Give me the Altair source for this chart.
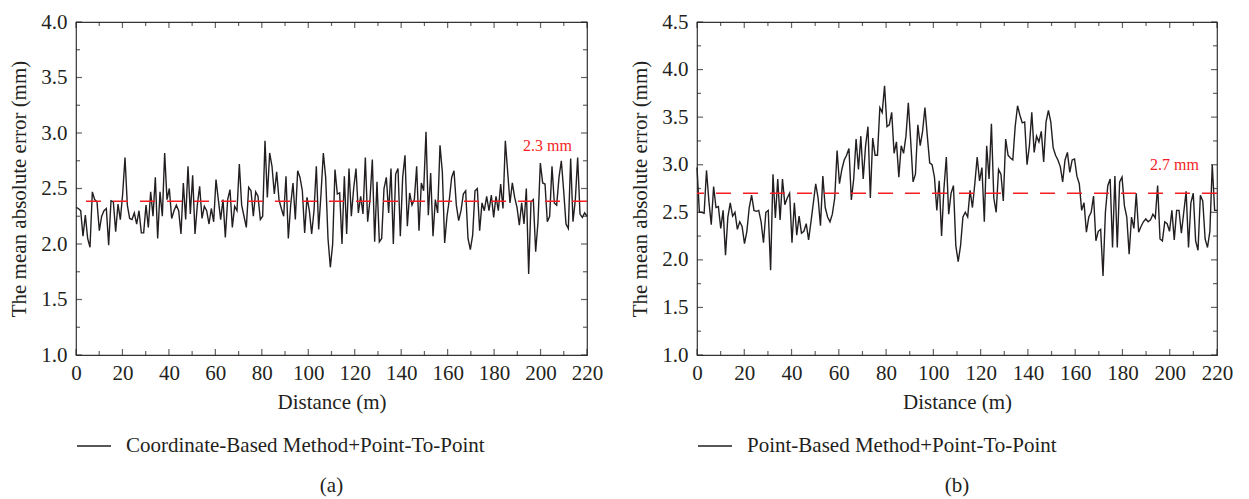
import altair as alt
import numpy as np
import pandas as pd

# ---------------- data ----------------
series_a_name = "Coordinate-Based Method+Point-To-Point"
series_b_name = "Point-Based Method+Point-To-Point"

error_a = [2.33, 2.32, 2.30, 2.07, 2.26, 2.05, 1.97, 2.47, 2.40, 2.38, 2.12, 2.25, 2.30, 2.32, 1.99, 2.39,
           2.38, 2.11, 2.36, 2.22, 2.45, 2.78, 2.35, 2.23, 2.22, 2.28, 2.18, 2.30, 2.10, 2.10, 2.35, 2.15,
           2.47, 2.25, 2.60, 2.05, 2.47, 2.25, 2.82, 2.40, 2.50, 2.23, 2.30, 2.35, 2.30, 2.09, 2.55, 2.22,
           2.70, 2.27, 2.62, 2.09, 2.35, 2.52, 2.23, 2.34, 2.30, 2.18, 2.32, 2.20, 2.58, 2.40, 2.22, 2.40,
           2.06, 2.40, 2.49, 2.15, 2.34, 2.30, 2.72, 2.35, 2.25, 2.15, 2.51, 2.48, 2.25, 2.47, 2.43, 2.22,
           2.25, 2.93, 2.42, 2.82, 2.70, 2.45, 2.65, 2.40, 2.32, 2.25, 2.61, 2.05, 2.35, 2.55, 2.22, 2.66,
           2.60, 2.48, 2.10, 2.42, 2.30, 2.09, 2.30, 2.70, 2.13, 2.45, 2.82, 2.60, 2.05, 1.79, 2.00, 2.67,
           2.45, 2.46, 2.00, 2.61, 2.09, 2.68, 2.25, 2.50, 2.68, 2.28, 2.43, 2.27, 2.78, 2.20, 2.40, 2.76,
           2.02, 2.56, 2.02, 2.05, 2.50, 2.60, 2.28, 2.68, 2.00, 2.63, 2.68, 2.07, 2.60, 2.80, 2.16, 2.46,
           2.35, 2.40, 2.70, 2.12, 2.55, 2.48, 3.01, 2.26, 2.64, 2.07, 2.40, 2.28, 2.89, 2.65, 2.01, 2.25,
           2.40, 2.60, 2.66, 2.35, 2.21, 2.30, 2.45, 2.48, 2.05, 1.95, 2.08, 2.48, 2.50, 2.12, 2.37, 2.30,
           2.43, 2.30, 2.44, 2.24, 2.43, 2.30, 2.54, 2.32, 2.93, 2.65, 2.37, 2.55, 2.42, 2.33, 2.17, 2.37,
           2.18, 2.50, 1.73, 2.38, 2.40, 1.93, 2.20, 2.73, 2.55, 2.54, 2.20, 2.25, 2.70, 2.37, 2.35, 2.60,
           2.75, 2.48, 2.18, 2.14, 2.77, 2.20, 2.40, 2.78, 2.27, 2.24, 2.28, 2.25]

error_b = [2.97, 2.50, 2.50, 2.49, 2.94, 2.62, 2.37, 2.77, 2.55, 2.56, 2.33, 2.52, 2.05, 2.45, 2.60, 2.46,
           2.50, 2.32, 2.40, 2.35, 2.17, 2.30, 2.55, 2.68, 2.52, 2.51, 2.52, 2.40, 2.18, 2.50, 2.52, 1.89,
           2.90, 2.44, 2.85, 2.42, 2.85, 2.58, 2.65, 2.70, 2.18, 2.60, 2.26, 2.46, 2.28, 2.30, 2.38, 2.21,
           2.40, 2.60, 2.80, 2.65, 2.36, 2.88, 2.55, 2.45, 2.40, 2.48, 2.65, 3.15, 2.80, 2.95, 3.05, 3.10,
           3.17, 2.63, 2.85, 3.27, 2.95, 3.30, 2.85, 3.20, 3.40, 2.65, 3.28, 3.10, 3.10, 3.60, 3.55, 3.83,
           3.40, 3.42, 3.55, 3.12, 3.24, 2.87, 3.20, 3.12, 3.30, 3.65, 3.25, 2.82, 2.90, 3.42, 3.20, 3.35,
           3.60, 3.30, 3.02, 3.00, 2.87, 2.52, 2.83, 2.25, 2.75, 3.08, 2.48, 2.70, 2.78, 2.15, 1.98, 2.15,
           2.45, 2.50, 2.45, 2.73, 2.55, 2.80, 3.08, 2.83, 2.97, 2.40, 3.20, 2.85, 3.43, 2.65, 2.50, 2.95,
           2.90, 2.62, 3.27, 3.10, 3.07, 3.05, 3.40, 3.62, 3.52, 3.44, 3.45, 3.00, 3.20, 3.55, 3.13, 3.30,
           3.24, 3.35, 3.03, 3.45, 3.57, 3.45, 3.18, 3.10, 3.05, 2.98, 2.82, 3.05, 3.13, 2.92, 3.05, 3.06,
           2.88, 2.80, 2.52, 2.60, 2.29, 2.45, 2.50, 2.67, 2.20, 2.30, 2.32, 1.83, 2.50, 2.78, 2.85, 2.13,
           2.88, 2.13, 2.82, 2.87, 2.57, 2.45, 2.06, 2.45, 2.33, 2.70, 2.29, 2.35, 2.40, 2.43, 2.40, 2.42,
           2.48, 2.44, 2.78, 2.22, 2.20, 2.40, 2.38, 2.30, 2.52, 2.21, 2.52, 2.52, 2.28, 2.50, 2.72, 2.13,
           2.60, 2.70, 2.20, 2.10, 2.68, 2.62, 2.22, 2.13, 2.30, 3.00, 2.52, 2.52]

mean_a = 2.385
mean_b = 2.70
note_a = "2.3 mm"
note_b = "2.7 mm"
note_a_pos = (203, 2.88)
note_b_pos = (202, 3.00)

x_ticks = list(range(0, 221, 20))
y_ticks_a = [1.0, 1.5, 2.0, 2.5, 3.0, 3.5, 4.0]
y_ticks_b = [1.0, 1.5, 2.0, 2.5, 3.0, 3.5, 4.0, 4.5]
x_minor = list(range(10, 221, 20))
y_minor_a = [1.25, 1.75, 2.25, 2.75, 3.25, 3.75]
y_minor_b = [1.25, 1.75, 2.25, 2.75, 3.25, 3.75, 4.25]

# ---------------- style ----------------
FONT = "Liberation Serif"
RED = "#f41e25"
INK = "#231f20"
H = 333


def panel(values, series, mean, note, note_pos, ymax, ymaj, ymin, width, sub):
    n = len(values)
    df = pd.DataFrame({"distance": np.linspace(0, 220, n), "error": values, "series": series})
    one = pd.DataFrame({"k": [0]})
    xs = alt.Scale(domain=[0, 220], nice=False, zero=False)
    ys = alt.Scale(domain=[1.0, ymax], nice=False, zero=False)
    x_axis = alt.Axis(values=x_ticks, title="Distance (m)", labelPadding=7,
                      titlePadding=8, labelFlush=False)
    y_axis = alt.Axis(values=ymaj, format=".1f", title="The mean absolute error (mm)",
                      labelPadding=9, titlePadding=11)

    line = alt.Chart(df).mark_line(strokeWidth=1.4).encode(
        x=alt.X("distance:Q", scale=xs, axis=x_axis),
        y=alt.Y("error:Q", scale=ys, axis=y_axis),
        color=alt.Color("series:N", scale=alt.Scale(range=[INK]),
                        legend=alt.Legend(title=None, orient="none", legendX=0, legendY=406,
                                          symbolType="stroke", symbolSize=1156,
                                          symbolStrokeWidth=1.5, labelFont=FONT,
                                          labelFontSize=21, labelOffset=14, labelColor=INK,
                                          labelLimit=600)),
    )
    rule = alt.Chart(one).mark_rule(color=RED, strokeDash=[15, 12], strokeWidth=1.4).encode(
        y=alt.datum(mean))
    txt = alt.Chart(one).mark_text(color=RED, font=FONT, fontSize=16).encode(
        x=alt.datum(note_pos[0]), y=alt.datum(note_pos[1]), text=alt.value(note))

    layers = [line, rule, txt]
    for vals, L in ((x_ticks, 6), (x_minor, 4)):
        d = pd.DataFrame({"p": vals})
        for yv, off in ((1.0, -L / 2), (ymax, L / 2)):
            layers.append(alt.Chart(d).mark_tick(orient="vertical", size=L, thickness=1.2,
                                                 yOffset=off, color=INK).encode(
                x=alt.X("p:Q", scale=xs, axis=x_axis),
                y=alt.datum(yv)))
    for vals, L in ((ymaj, 6), (ymin, 4)):
        d = pd.DataFrame({"p": vals})
        for xv, off in ((0, L / 2), (220, -L / 2)):
            layers.append(alt.Chart(d).mark_tick(orient="horizontal", size=L, thickness=1.2,
                                                 xOffset=off, color=INK).encode(
                y=alt.Y("p:Q", scale=ys, axis=y_axis),
                x=alt.datum(xv)))

    return alt.layer(*layers).properties(
        width=width, height=H,
        title=alt.TitleParams(sub, orient="bottom", font=FONT, fontSize=21,
                              fontWeight="normal", color=INK, offset=19))


pa = panel(error_a, series_a_name, mean_a, note_a, note_a_pos, 4.0, y_ticks_a, y_minor_a, 511, "(a)")
pb = panel(error_b, series_b_name, mean_b, note_b, note_b_pos, 4.5, y_ticks_b, y_minor_b, 520, "(b)")

chart = alt.hconcat(pa, pb, spacing=25).resolve_scale(
    color="independent", x="independent", y="independent"
).resolve_legend(color="independent").properties(
    padding={"left": 0, "top": 2, "right": 0, "bottom": 0}
).configure_view(stroke="#333333", strokeWidth=1.2).configure_axis(
    labelFont=FONT, titleFont=FONT, labelFontSize=21, titleFontSize=21,
    titleFontWeight="normal", labelColor=INK, titleColor=INK,
    grid=False, ticks=False, domain=False
)

chart.save("out.html", embed_options={"renderer": "svg", "actions": False})
